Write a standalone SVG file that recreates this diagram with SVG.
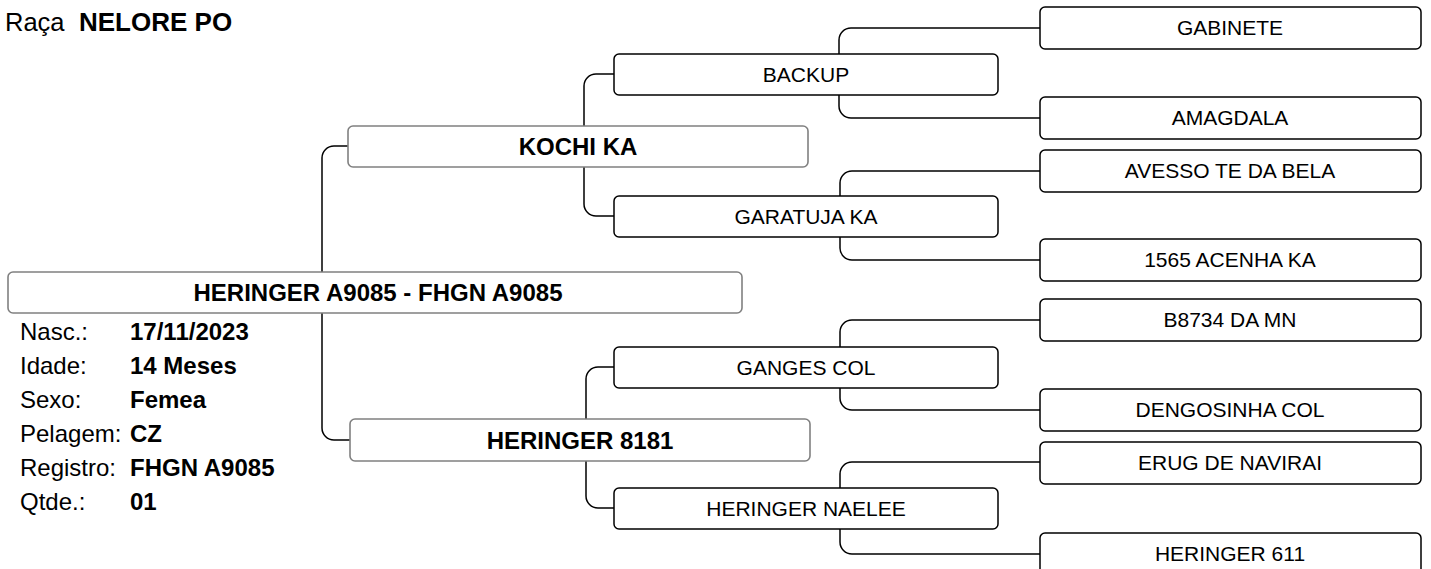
<svg xmlns="http://www.w3.org/2000/svg" width="1431" height="569" viewBox="0 0 1431 569">
<style>
text{font-family:"Liberation Sans",Arial,sans-serif;fill:#000}
.b{font-weight:bold}
.g1{fill:#fff;stroke:#808080;stroke-width:1.6}
.g2{fill:#fff;stroke:#000;stroke-width:1.5}
.t1{font-size:24px;font-weight:bold;text-anchor:middle}
.t2{font-size:21px;text-anchor:middle}
.info{font-size:24px}
.c{fill:none;stroke:#000;stroke-width:1.5}
</style>
<rect width="1431" height="569" fill="#fff"/>
<g id="header">
<text x="5" y="31" style="font-size:25.5px">Raça</text>
<text x="79" y="31" class="b" style="font-size:26px">NELORE PO</text>
</g>
<g id="connectors">
<path class="c" d="M322,272 V158 A12,12 0 0 1 334,146 H348"/>
<path class="c" d="M322,313 V428 A12,12 0 0 0 334,440 H350"/>
<path class="c" d="M584,126 V86 A12,12 0 0 1 596,74 H614"/>
<path class="c" d="M584,167 V204 A12,12 0 0 0 596,216 H614"/>
<path class="c" d="M586,419 V379 A12,12 0 0 1 598,367 H614"/>
<path class="c" d="M586,461 V496 A12,12 0 0 0 598,508 H614"/>
<path class="c" d="M839,54 V40 A12,12 0 0 1 851,28 H1040"/>
<path class="c" d="M839,95 V106 A12,12 0 0 0 851,118 H1040"/>
<path class="c" d="M840,196 V183 A12,12 0 0 1 852,171 H1040"/>
<path class="c" d="M840,237 V248 A12,12 0 0 0 852,260 H1040"/>
<path class="c" d="M840,347 V332 A12,12 0 0 1 852,320 H1040"/>
<path class="c" d="M840,388 V398 A12,12 0 0 0 852,410 H1040"/>
<path class="c" d="M840,488 V474 A12,12 0 0 1 852,462 H1040"/>
<path class="c" d="M840,529 V542 A12,12 0 0 0 852,554 H1040"/>
</g>
<g id="main">
<rect class="g1" x="8" y="272" width="734" height="41" rx="5"/>
<text class="t1" x="378" y="301">HERINGER A9085 - FHGN A9085</text>
</g>
<g id="info" class="info">
<text x="20" y="340">Nasc.:</text><text x="130" y="340" class="b">17/11/2023</text>
<text x="20" y="374">Idade:</text><text x="130" y="374" class="b">14 Meses</text>
<text x="20" y="408">Sexo:</text><text x="130" y="408" class="b">Femea</text>
<text x="20" y="442">Pelagem:</text><text x="130" y="442" class="b">CZ</text>
<text x="20" y="476">Registro:</text><text x="130" y="476" class="b">FHGN A9085</text>
<text x="20" y="510">Qtde.:</text><text x="130" y="510" class="b">01</text>
</g>
<g id="kochi">
<rect class="g1" x="348" y="126" width="460" height="41" rx="5"/>
<text class="t1" x="578" y="155">KOCHI KA</text>
</g>
<g id="heringer8181">
<rect class="g1" x="350" y="419" width="460" height="42" rx="5"/>
<text class="t1" x="580" y="449">HERINGER 8181</text>
</g>
<g id="backup">
<rect class="g2" x="614" y="54" width="384" height="41" rx="5"/>
<text class="t2" x="806" y="82">BACKUP</text>
</g>
<g id="garatuja">
<rect class="g2" x="614" y="196" width="384" height="41" rx="5"/>
<text class="t2" x="806" y="224">GARATUJA KA</text>
</g>
<g id="ganges">
<rect class="g2" x="614" y="347" width="384" height="41" rx="5"/>
<text class="t2" x="806" y="375">GANGES COL</text>
</g>
<g id="naelee">
<rect class="g2" x="614" y="488" width="384" height="41" rx="5"/>
<text class="t2" x="806" y="516">HERINGER NAELEE</text>
</g>
<g id="gabinete">
<rect class="g2" x="1040" y="7" width="381" height="42" rx="5"/>
<text class="t2" x="1230" y="35">GABINETE</text>
</g>
<g id="amagdala">
<rect class="g2" x="1040" y="97" width="381" height="42" rx="5"/>
<text class="t2" x="1230" y="125">AMAGDALA</text>
</g>
<g id="avesso">
<rect class="g2" x="1040" y="150" width="381" height="42" rx="5"/>
<text class="t2" x="1230" y="178">AVESSO TE DA BELA</text>
</g>
<g id="acenha">
<rect class="g2" x="1040" y="239" width="381" height="42" rx="5"/>
<text class="t2" x="1230" y="267">1565 ACENHA KA</text>
</g>
<g id="b8734">
<rect class="g2" x="1040" y="299" width="381" height="42" rx="5"/>
<text class="t2" x="1230" y="327">B8734 DA MN</text>
</g>
<g id="dengosinha">
<rect class="g2" x="1040" y="389" width="381" height="42" rx="5"/>
<text class="t2" x="1230" y="417">DENGOSINHA COL</text>
</g>
<g id="erug">
<rect class="g2" x="1040" y="442" width="381" height="42" rx="5"/>
<text class="t2" x="1230" y="470">ERUG DE NAVIRAI</text>
</g>
<g id="heringer611">
<rect class="g2" x="1040" y="533" width="381" height="42" rx="5"/>
<text class="t2" x="1230" y="561">HERINGER 611</text>
</g>
</svg>
